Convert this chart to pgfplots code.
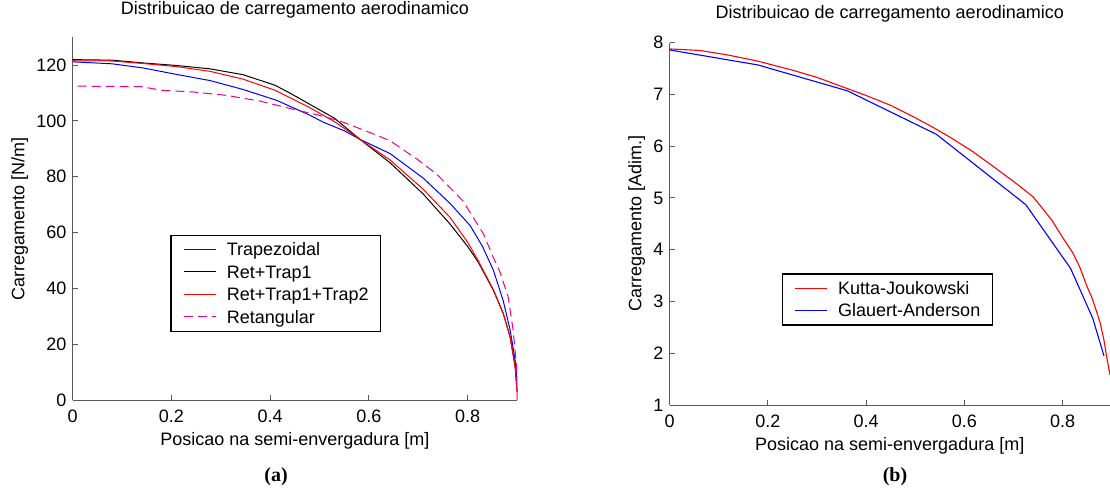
\documentclass[border=0pt]{standalone}
\usepackage{fontspec}
\setmainfont{Liberation Sans}
\newfontfamily\capfont{Liberation Serif}
\usepackage{pgfplots}
\pgfplotsset{compat=1.18}

\newcommand{\f}{\fontsize{18}{18}\selectfont}

\pgfplotsset{
  legend image code/.code={\draw[#1] (0pt,0pt) -- (32pt,0pt);},
  matlab/.style={
    scale only axis,
    clip=false,
    axis lines*=left,
    axis line style={draw=black!65, line width=1pt},
    tick style={draw=black!65, line width=1pt},
    tick align=inside,
    major tick length=5pt,
    /pgf/number format/assume math mode=true,
    ticklabel style={font=\f, text=black},
    xticklabel style={anchor=north, inner sep=0pt, yshift=-10pt},
    yticklabel style={anchor=east, inner sep=0pt, xshift=-6pt},
    title style={font=\f, anchor=center, inner sep=0pt},
    label style={font=\f, inner sep=0pt},
    xlabel style={at={(axis description cs:0.5,0)}, anchor=center, yshift=-41pt},
    legend cell align=left,
    legend style={draw=black, line width=1.2pt, fill=white, font=\f,
      inner xsep=12pt, inner ysep=3pt, row sep=0pt, column sep=10.8pt,
      nodes={inner sep=0pt, text height=17.5pt, text depth=5pt}},
  }
}

\begin{document}
\begin{tikzpicture}

% (a) carregamento dimensional
\begin{axis}[matlab,
  at={(72.7pt,90pt)}, anchor=south west,
  width=444.4pt, height=362.7pt,
  xmin=0, xmax=0.9, ymin=0, ymax=130,
  xtick={0,0.2,0.4,0.6,0.8}, ytick={0,20,...,120},
  title={Distribuicao de carregamento aerodinamico},
  title style={at={(axis description cs:0.5,1)}, yshift=21pt},
  xlabel={Posicao na semi-envergadura [m]},
  ylabel={Carregamento [N/m]},
  ylabel style={at={(axis description cs:-0.1193,0.5)}, anchor=center},
  legend style={at={(axis description cs:0.22,0.456)}, anchor=north west},
]
\addplot[draw=blue, line width=1pt] coordinates {
  (0,121.2) (0.08,120.5) (0.143,119) (0.21,116.7) (0.278,114.5) (0.345,111.3)
  (0.413,107.4) (0.48,102.1) (0.507,99.6) (0.55,96.5) (0.582,93.4) (0.643,88.3)
  (0.71,79.5) (0.764,70.5) (0.805,62.5) (0.83,55) (0.852,46.5) (0.872,35.5)
  (0.886,25) (0.896,14.3) (0.8995,8)
};
\addlegendentry{Trapezoidal}
\addplot[draw=black, line width=1pt] coordinates {
  (0,122) (0.08,121.8) (0.143,120.8) (0.21,119.9) (0.278,118.7) (0.345,116.6)
  (0.41,112.8) (0.44,110) (0.48,106) (0.53,101) (0.582,93.4) (0.643,85)
  (0.71,73.8) (0.764,63.1) (0.80,55) (0.821,49.5) (0.852,39.3) (0.872,31)
  (0.886,22.5) (0.896,12) (0.9,3)
};
\addlegendentry{Ret+Trap1}
\addplot[draw=red, line width=1pt] coordinates {
  (0,121.6) (0.08,121.5) (0.143,120.6) (0.21,119.5) (0.278,117.8) (0.345,115)
  (0.41,111) (0.48,104.8) (0.53,99.8) (0.582,93.4) (0.643,86) (0.71,75.5)
  (0.764,65.5) (0.80,56.5) (0.821,50) (0.852,39.5) (0.872,31) (0.886,22.5)
  (0.896,12) (0.9,3)
};
\addlegendentry{Ret+Trap1+Trap2}
\addplot[draw=magenta, line width=1pt, dash pattern=on 9pt off 5pt] coordinates {
  (0.01,112.5) (0.14,112.3) (0.18,111) (0.244,110.4) (0.311,109.2) (0.38,107.1)
  (0.447,104.2) (0.5,102) (0.541,100) (0.6,96) (0.643,92.9) (0.7,86)
  (0.737,81) (0.79,71.4) (0.832,59.5) (0.852,51) (0.865,46) (0.882,36.9)
  (0.892,25) (0.899,12) (0.9,0)
};
\addlegendentry{Retangular}
\end{axis}

% (b) carregamento adimensional
\begin{axis}[matlab,
  at={(669.5pt,85pt)}, anchor=south west,
  width=440.5pt, height=362.3pt,
  xmin=0, xmax=0.8963, ymin=1, ymax=8,
  xtick={0,0.2,0.4,0.6,0.8}, ytick={1,2,...,8},
  title={Distribuicao de carregamento aerodinamico},
  title style={at={(axis description cs:0.5,1)}, yshift=22.7pt},
  xlabel={Posicao na semi-envergadura [m]},
  ylabel={Carregamento [Adim.]},
  ylabel style={at={(axis description cs:-0.0747,0.5)}, anchor=center},
  legend style={at={(axis description cs:0.2547,0.3635)}, anchor=north west},
]
\addplot[draw=red, line width=1.1pt] coordinates {
  (0,7.88) (0.062,7.85) (0.12,7.76) (0.177,7.65) (0.25,7.47) (0.3,7.33)
  (0.36,7.12) (0.4,6.98) (0.45,6.79) (0.5,6.55) (0.537,6.36) (0.575,6.15)
  (0.618,5.89) (0.66,5.60) (0.7,5.32) (0.74,5.02) (0.778,4.57) (0.801,4.22)
  (0.82,3.95) (0.835,3.66) (0.849,3.30) (0.860,3.06) (0.876,2.60) (0.884,2.25)
  (0.8895,1.93) (0.8963,1.58)
};
\addlegendentry{Kutta-Joukowski}
\addplot[draw=blue, line width=1.1pt] coordinates {
  (0,7.86) (0.18,7.57) (0.362,7.07) (0.543,6.23) (0.725,4.87) (0.816,3.64)
  (0.861,2.68) (0.884,1.95)
};
\addlegendentry{Glauert-Anderson}
\end{axis}

\node[font=\capfont\bfseries\fontsize{20}{20}\selectfont] at (276pt,13.6pt) {(a)};
\node[font=\capfont\bfseries\fontsize{20}{20}\selectfont] at (895pt,13.6pt) {(b)};

\pgfresetboundingbox
\useasboundingbox (0pt,0pt) rectangle (1110pt,490pt);
\end{tikzpicture}
\end{document}
